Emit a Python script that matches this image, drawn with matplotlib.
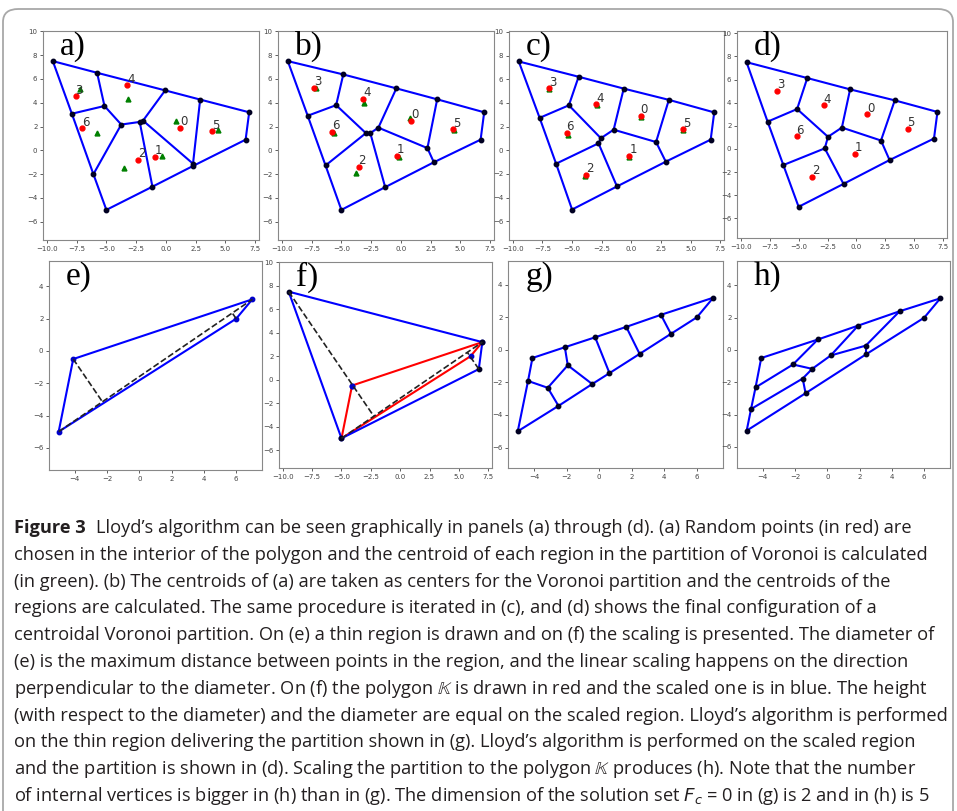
import matplotlib

matplotlib.use("Agg")
import matplotlib.pyplot as plt
import numpy as np
from matplotlib.patches import FancyBboxPatch

W, H = 957, 811

# scaled region (blue in f) and thin polygon K (red in f)
OUTER = [(-9.5, 7.5), (7.0, 3.2), (6.7, 0.9), (-5.0, -5.0)]
THIN = [(-4.1, -0.5), (7.0, 3.2), (6.0, 2.0), (-5.0, -5.0)]

# Lloyd iterations a) .. d)
VERT_A = [(-9.5, 7.5), (-5.78, 6.52), (-0.06, 5.04), (2.88, 4.27), (7.0, 3.2), (6.7, 0.9),
          (2.28, -1.12), (2.28, -1.31), (-1.13, -3.05), (-5.0, -5.0), (-6.09, -2.0),
          (-7.9, 3.08), (-5.16, 3.73), (-3.75, 2.17), (-2.2, 2.39), (-1.92, 2.5)]
EDGES_A = [(0, 1), (1, 2), (2, 3), (3, 4), (4, 5), (5, 7), (7, 8), (8, 9), (9, 10), (10, 11), (11, 0),
           (1, 12), (11, 12), (12, 13), (13, 10), (13, 14), (14, 15), (15, 2), (14, 8),
           (15, 6), (6, 3), (6, 7)]
RED_A = [(1.21, 1.88), (-0.9, -0.54), (-2.31, -0.83), (-7.59, 4.53), (-3.27, 5.47), (3.89, 1.6), (-7.02, 1.85)]
GREEN_A = [(0.87, 2.45), (-0.31, -0.51), (-3.55, -1.45), (-7.19, 5.16), (-3.16, 4.3), (4.4, 1.68), (-5.81, 1.48)]

VERT_B = [(-9.5, 7.5), (-4.84, 6.38), (-0.38, 5.21), (3.05, 4.29), (7.0, 3.2), (6.7, 0.9),
          (2.77, -1.0), (-1.32, -3.09), (-5.0, -5.0), (-6.33, -1.27), (-7.83, 2.91),
          (-5.44, 3.8), (-2.94, 1.45), (-2.57, 1.45), (-1.89, 1.91), (2.23, 0.19)]
EDGES_B = [(0, 1), (1, 2), (2, 3), (3, 4), (4, 5), (5, 6), (6, 7), (7, 8), (8, 9), (9, 10), (10, 0),
           (1, 11), (10, 11), (11, 12), (12, 9), (12, 13), (13, 14), (14, 2), (13, 7),
           (14, 15), (15, 3), (15, 6)]
RED_B = [(0.87, 2.48), (-0.33, -0.44), (-3.56, -1.36), (-7.27, 5.28), (-3.17, 4.34), (4.39, 1.76), (-5.78, 1.53)]
GREEN_B = [(0.75, 2.71), (-0.19, -0.55), (-3.79, -1.87), (-7.13, 5.2), (-3.08, 4.0), (4.45, 1.73), (-5.58, 1.47)]

VERT_C = [(-9.5, 7.5), (-4.45, 6.21), (-0.64, 5.21), (3.17, 4.26), (7.0, 3.2), (6.7, 0.9),
          (2.91, -0.96), (-1.21, -3.05), (-5.0, -5.0), (-6.35, -1.13), (-7.74, 2.74),
          (-5.27, 3.8), (-2.57, 1.02), (-2.77, 0.59), (-1.49, 1.74), (2.09, 0.7)]
EDGES_CD = [(0, 1), (1, 2), (2, 3), (3, 4), (4, 5), (5, 6), (6, 7), (7, 8), (8, 9), (9, 10), (10, 0),
            (1, 11), (10, 11), (11, 12), (12, 14), (14, 2), (14, 15), (15, 3), (15, 6),
            (12, 13), (13, 9), (13, 7)]
RED_C = [(0.78, 2.9), (-0.18, -0.5), (-3.82, -2.1), (-6.97, 5.23), (-2.95, 3.88), (4.38, 1.77), (-5.47, 1.47)]
GREEN_C = [(0.8, 2.85), (-0.17, -0.55), (-3.88, -2.21), (-6.93, 5.15), (-2.92, 3.8), (4.4, 1.74), (-5.35, 1.33)]

VERT_D = [(-9.5, 7.5), (-4.25, 6.13), (-0.55, 5.15), (3.31, 4.2), (7.0, 3.2), (6.7, 0.9),
          (2.86, -0.96), (-1.12, -3.02), (-5.0, -5.0), (-6.32, -1.39), (-7.68, 2.36),
          (-5.13, 3.45), (-2.46, 1.05), (-2.74, 0.05), (-1.26, 1.85), (2.12, 0.73)]
RED_D = [(0.89, 2.99), (-0.16, -0.44), (-3.82, -2.39), (-6.86, 5.05), (-2.83, 3.77), (4.42, 1.73), (-5.18, 1.08)]

# partitions of the thin region g) and of the rescaled one h)
VERT_G = [(-5.0, -5.0), (-4.37, -1.91), (-4.1, -0.5), (-2.11, 0.16), (-0.25, 0.77), (1.66, 1.41),
          (3.79, 2.15), (7.0, 3.2), (6.0, 2.0), (4.4, 0.98), (2.48, -0.25), (0.63, -1.43),
          (-0.43, -2.1), (-2.5, -3.44), (-3.16, -2.33), (-1.93, -0.95)]
EDGES_G = [(k, k + 1) for k in range(13)] + [(13, 0),
           (1, 14), (14, 13), (14, 15), (15, 3), (15, 12), (4, 11), (5, 10), (6, 9)]

VERT_H = [(-5.0, -5.0), (-4.73, -3.66), (-4.45, -2.32), (-4.1, -0.5), (-0.59, 0.65), (1.91, 1.51),
          (4.48, 2.4), (7.0, 3.2), (6.0, 2.0), (2.38, -0.28), (-1.35, -2.68), (2.38, 0.27),
          (0.21, -0.34), (-0.94, -1.17), (-2.13, -0.9), (-1.53, -1.77)]
EDGES_H = [(k, k + 1) for k in range(10)] + [(10, 0),
           (2, 14), (14, 4), (14, 13), (13, 12), (12, 5), (12, 11), (11, 6), (11, 9),
           (1, 15), (15, 13), (15, 10)]

CAPTION = [
    "Lloyd\u2019s algorithm can be seen graphically in panels (a) through (d). (a) Random points (in red) are",
    "chosen in the interior of the polygon and the centroid of each region in the partition of Voronoi is calculated",
    "(in green). (b) The centroids of (a) are taken as centers for the Voronoi partition and the centroids of the",
    "regions are calculated. The same procedure is iterated in (c), and (d) shows the final configuration of a",
    "centroidal Voronoi partition. On (e) a thin region is drawn and on (f) the scaling is presented. The diameter of",
    "(e) is the maximum distance between points in the region, and the linear scaling happens on the direction",
    "perpendicular to the diameter. On (f) the polygon $\\mathbb{K}$ is drawn in red and the scaled one is in blue. The height",
    "(with respect to the diameter) and the diameter are equal on the scaled region. Lloyd\u2019s algorithm is performed",
    "on the thin region delivering the partition shown in (g). Lloyd\u2019s algorithm is performed on the scaled region",
    "and the partition is shown in (d). Scaling the partition to the polygon $\\mathbb{K}$ produces (h). Note that the number",
    "of internal vertices is bigger in (h) than in (g). The dimension of the solution set $F_c$ = 0 in (g) is 2 and in (h) is 5",
]


def px_axes(fig, x0, y0, x1, y1):
    return fig.add_axes([x0 / W, 1 - y1 / H, (x1 - x0) / W, (y1 - y0) / H])


def style(ax, label):
    ax.set_aspect("equal", adjustable="datalim")
    ax.tick_params(labelsize=5, length=2.5, width=0.6, colors="#444444", pad=1.5)
    for s in ax.spines.values():
        s.set_color("#888888")
        s.set_linewidth(0.8)
    ax.text(0.08, 1.0, label, transform=ax.transAxes, ha="left", va="top",
            fontsize=24, family="Liberation Serif", color="black")


def draw_graph(ax, verts, edges, mc="#000022"):
    v = np.array(verts)
    for i, j in edges:
        ax.plot(v[[i, j], 0], v[[i, j], 1], color="#0000ff", lw=1.5, zorder=2)
    ax.plot(v[:, 0], v[:, 1], "o", color=mc, ms=3.2, zorder=3)


def draw_points(ax, red, green=None):
    if green is not None:
        g = np.array(green)
        ax.plot(g[:, 0], g[:, 1], "^", color="#008000", ms=3.5, zorder=4)
    r = np.array(red)
    ax.plot(r[:, 0], r[:, 1], "o", color="#ff0000", ms=3.5, zorder=5)
    for k, (x, y) in enumerate(red):
        ax.annotate(str(k), (x, y), xytext=(0, 2), textcoords="offset points",
                    fontsize=8.5, color="#333333", zorder=6)


def foot(p, a, b):
    p, a, b = np.asarray(p), np.asarray(a), np.asarray(b)
    d = b - a
    return a + np.dot(p - a, d) / np.dot(d, d) * d


def dashed(ax, p, q):
    ax.plot([p[0], q[0]], [p[1], q[1]], "--", color="#222222", lw=1.2, zorder=4)


def ring(poly):
    return [(k, (k + 1) % len(poly)) for k in range(len(poly))]


fig = plt.figure(figsize=(W / 100, H / 100), dpi=100)

top = [(43, 31, 259, 240), (278, 31, 494, 240), (509, 31, 724, 240), (737, 31, 947, 238)]
panels = [(VERT_A, EDGES_A, RED_A, GREEN_A, "a)"), (VERT_B, EDGES_B, RED_B, GREEN_B, "b)"),
          (VERT_C, EDGES_CD, RED_C, GREEN_C, "c)"), (VERT_D, EDGES_CD, RED_D, None, "d)")]
for box, (verts, edges, red, green, lab) in zip(top, panels):
    ax = px_axes(fig, *box)
    draw_graph(ax, verts, edges)
    draw_points(ax, red, green)
    style(ax, lab)

# e) thin region with its diameter
ax = px_axes(fig, 49, 261, 262, 470)
draw_graph(ax, THIN, ring(THIN), mc="#0000cc")
dashed(ax, THIN[3], THIN[1])
dashed(ax, THIN[0], foot(THIN[0], THIN[3], THIN[1]))
dashed(ax, THIN[2], foot(THIN[2], THIN[3], THIN[1]))
style(ax, "e)")

# f) thin polygon (red) and scaled polygon (blue)
ax = px_axes(fig, 279, 262, 492, 468)
t = np.array(THIN + [THIN[0]])
ax.plot(t[:, 0], t[:, 1], color="#ff0000", lw=1.5, zorder=2)
ax.plot(t[:, 0], t[:, 1], "o", color="#0000cc", ms=3.2, zorder=3)
draw_graph(ax, OUTER, ring(OUTER))
dashed(ax, OUTER[3], OUTER[1])
dashed(ax, OUTER[0], foot(OUTER[0], OUTER[3], OUTER[1]))
dashed(ax, OUTER[2], foot(OUTER[2], OUTER[3], OUTER[1]))
style(ax, "f)")

ax = px_axes(fig, 508, 261, 723, 468)
draw_graph(ax, VERT_G, EDGES_G)
style(ax, "g)")

ax = px_axes(fig, 737, 261, 950, 468)
draw_graph(ax, VERT_H, EDGES_H)
style(ax, "h)")

# caption, sized so the longest lines span the text block
renderer = fig.canvas.get_renderer()
cap_font = ["Open Sans", "DejaVu Sans"]
widths = []
for line in CAPTION[1:]:
    probe = fig.text(0, 0, line, fontsize=12, family=cap_font)
    widths.append(probe.get_window_extent(renderer).width)
    probe.remove()
fs = 12 * 929 / max(widths)

x0 = 14
base0, step = 533, 26.8
head = fig.text(x0 / W, 1 - base0 / H, "Figure 3", fontsize=fs, family=cap_font,
                weight="bold", va="baseline", color="#231f20")
hw = head.get_window_extent(renderer).width
for k, line in enumerate(CAPTION):
    x = x0 + (hw + 0.55 * fs * 1.39 if k == 0 else 0)
    fig.text(x / W, 1 - (base0 + k * step) / H, line, fontsize=fs, family=cap_font,
             va="baseline", color="#231f20")

frame = FancyBboxPatch((3 / W, -0.05), 950 / W, 1.05 - 9 / H,
                       boxstyle="round,pad=0,rounding_size=0.016",
                       transform=fig.transFigure, fill=False, ec="#a8a8a8", lw=1.3)
fig.patches.append(frame)

fig.savefig("out.png", dpi=100)
